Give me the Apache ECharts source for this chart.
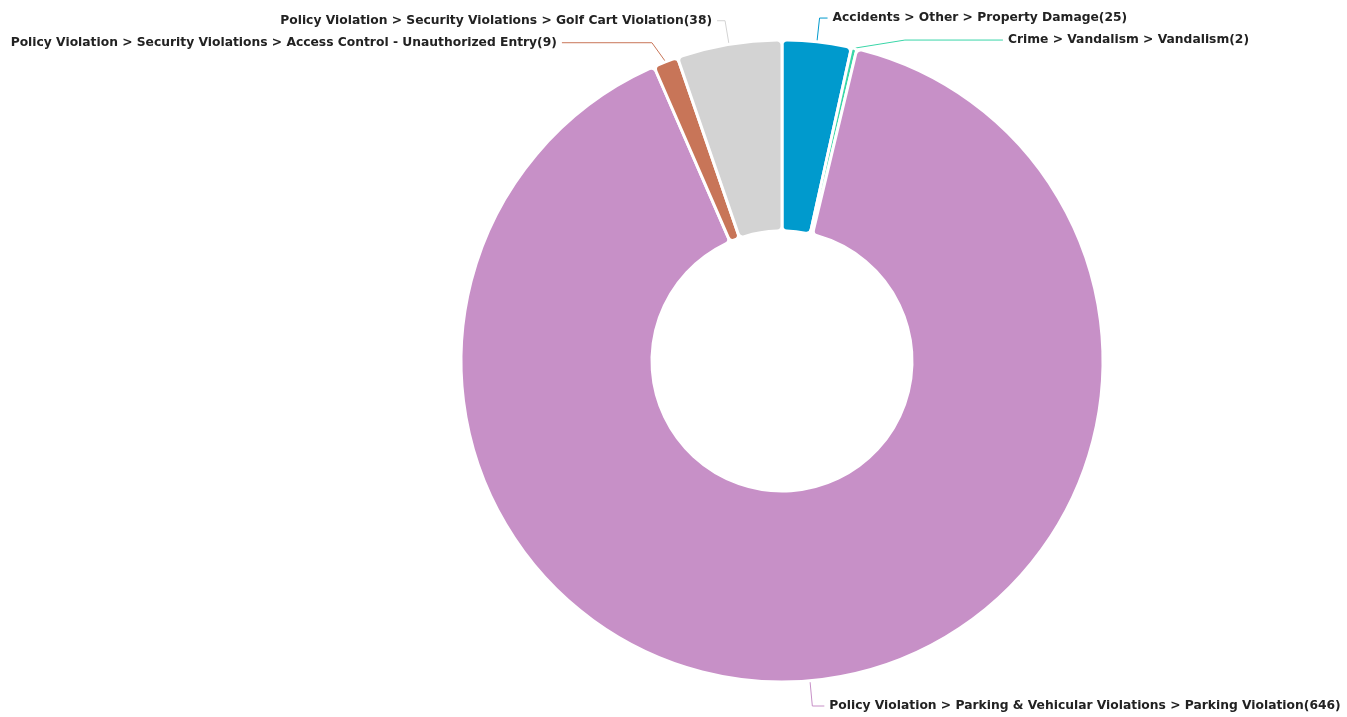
<!DOCTYPE html>
<html>
<head>
<meta charset="utf-8">
<script src="https://cdn.jsdelivr.net/npm/echarts@6/dist/echarts.min.js"></script>
<style>
    html, body { margin: 0; padding: 0; background: #fff; }
    #chart { width: 1347px; height: 717px; }
</style>
</head>
<body>
<div id="chart"></div>
<script>
    var categories = [
        'Accidents > Other > Property Damage',
        'Crime > Vandalism > Vandalism',
        'Policy Violation > Parking & Vehicular Violations > Parking Violation',
        'Policy Violation > Security Violations > Access Control - Unauthorized Entry',
        'Policy Violation > Security Violations > Golf Cart Violation'
    ];
    var counts = [25, 2, 646, 9, 38];
    var colors = ['#009acd', '#3ad6a8', '#c790c7', '#c87558', '#d3d3d3'];

    // leader line lengths per slice (crowded labels at the top are pushed out)
    var leaderLength = [24, 24, 27, 24, 24];
    var leaderLength2 = [8, 98, 12, 90, 8];

    var pieData = categories.map(function(name, i) {
        return {
            name: name,
            value: counts[i],
            labelLine: { length: leaderLength[i], length2: leaderLength2[i] }
        };
    });

    var myChart = echarts.init(document.getElementById('chart'));
    myChart.setOption({
        color: colors,
        animation: false,
        series: [{
            type: 'pie',
            center: [782, 361],
            radius: [130, 321],
            startAngle: 90,
            data: pieData,
            itemStyle: {
                borderColor: '#fff',
                borderWidth: 3,
                borderRadius: 5
            },
            label: {
                formatter: '{b}({c})',
                fontFamily: 'DejaVu Sans',
                fontWeight: 'bold',
                fontSize: 12.3,
                lineHeight: 20,
                color: '#222',
                overflow: 'none'
            },
            labelLine: {
                length: 24,
                length2: 10
            }
        }]
    });
</script>
</body>
</html>
